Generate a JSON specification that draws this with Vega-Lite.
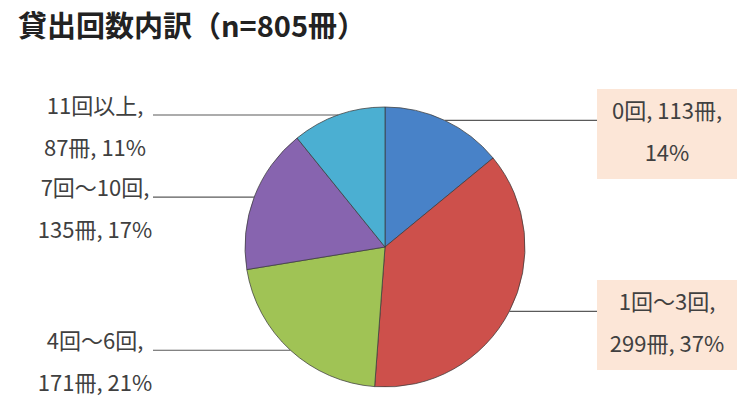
{
  "$schema": "https://vega.github.io/schema/vega-lite/v6.json",
  "width": 740,
  "height": 308,
  "autosize": {"type": "none"},
  "padding": {"left": 15, "top": 93, "right": 0, "bottom": 0},
  "background": "white",
  "title": {
    "text": "貸出回数内訳（n=805冊）",
    "anchor": "start",
    "frame": "group",
    "font": "Noto Sans CJK JP",
    "fontSize": 29,
    "fontWeight": "bold",
    "color": "#222222",
    "offset": 46,
    "dx": 3
  },
  "config": {"view": {"stroke": null}},
  "data": {
    "values": [
      {"cat": "0回", "n": 113, "order": 1, "label": ["0回, 113冊,", "14%"]},
      {"cat": "1回～3回", "n": 299, "order": 2, "label": ["1回～3回,", "299冊, 37%"]},
      {"cat": "4回～6回", "n": 171, "order": 3, "label": ["4回～6回,", "171冊, 21%"]},
      {"cat": "7回～10回", "n": 135, "order": 4, "label": ["7回～10回,", "135冊, 17%"]},
      {"cat": "11回以上", "n": 87, "order": 5, "label": ["11回以上,", "87冊, 11%"]}
    ]
  },
  "transform": [
    {"stack": "n", "groupby": [], "sort": [{"field": "order"}], "as": ["s0", "s1"]},
    {"joinaggregate": [{"op": "sum", "field": "n", "as": "total"}]},
    {"calculate": "PI * (datum.s0 + datum.s1) / datum.total", "as": "mid"},
    {"calculate": "140 * sin(datum.mid)", "as": "ex"},
    {"calculate": "140 * cos(datum.mid)", "as": "ey"},
    {"calculate": "datum.ex > 0 ? 1 : -1", "as": "side"},
    {"calculate": "datum.side > 0 ? 212 : -232", "as": "lx"},
    {"calculate": "datum.side > 0 ? 282 : -290", "as": "tx"},
    {"calculate": "datum.ey + 8", "as": "ty"},
    {"calculate": "datum.lx + 140", "as": "bx2"},
    {"calculate": "datum.ty - 21.5 - 45", "as": "by1"},
    {"calculate": "datum.ty - 21.5 + 45", "as": "by2"}
  ],
  "layer": [
    {
      "mark": {"type": "arc", "outerRadius": 140, "stroke": "#3c3c3c", "strokeWidth": 1, "strokeOpacity": 0.75},
      "encoding": {
        "theta": {"field": "n", "type": "quantitative"},
        "order": {"field": "order", "type": "quantitative"},
        "color": {
          "field": "cat",
          "type": "nominal",
          "scale": {
            "domain": ["0回", "1回～3回", "4回～6回", "7回～10回", "11回以上"],
            "range": ["#4882C8", "#CD504B", "#A0C355", "#8764AF", "#4BAFD2"]
          },
          "legend": null
        }
      }
    },
    {
      "transform": [{"filter": "datum.side > 0"}],
      "mark": {"type": "rect", "color": "#FCE6D7"},
      "encoding": {
        "x": {"field": "lx", "type": "quantitative", "axis": null, "scale": {"domain": [-370, 370], "nice": false, "zero": false}},
        "x2": {"field": "bx2"},
        "y": {"field": "by1", "type": "quantitative", "axis": null, "scale": {"domain": [-154, 154], "nice": false, "zero": false}},
        "y2": {"field": "by2"}
      }
    },
    {
      "mark": {"type": "rule", "color": "#5a5a5a", "strokeWidth": 1.2},
      "encoding": {
        "x": {"field": "ex", "type": "quantitative", "axis": null, "scale": {"domain": [-370, 370], "nice": false, "zero": false}},
        "x2": {"field": "lx"},
        "y": {"field": "ey", "type": "quantitative", "axis": null, "scale": {"domain": [-154, 154], "nice": false, "zero": false}},
        "y2": {"field": "ey"}
      }
    },
    {
      "mark": {"type": "text", "align": "center", "baseline": "middle", "lineHeight": 42, "font": "Noto Sans CJK JP", "fontSize": 22, "color": "#404040"},
      "encoding": {
        "x": {"field": "tx", "type": "quantitative", "axis": null, "scale": {"domain": [-370, 370], "nice": false, "zero": false}},
        "y": {"field": "ty", "type": "quantitative", "axis": null, "scale": {"domain": [-154, 154], "nice": false, "zero": false}},
        "text": {"field": "label"}
      }
    }
  ]
}
